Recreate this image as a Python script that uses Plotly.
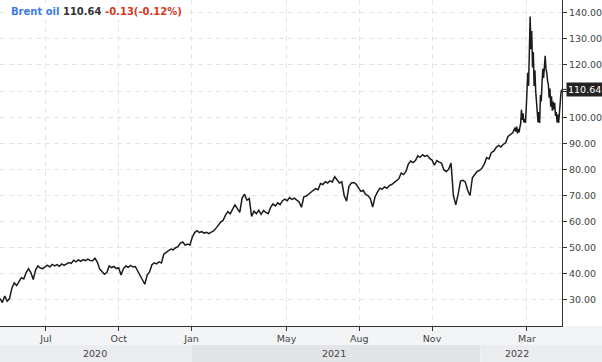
import pandas as pd
import plotly.graph_objects as go

# ---- data ----
# Part A: one value every 3 calendar days, 2020-05-04 .. 2022-02-14
dates_a = pd.date_range("2020-05-04", periods=218, freq="3D")
values_a = [
    30.5, 29.0, 31.5, 29.5, 30.5, 34.5, 36.5, 35.5, 37.0, 38.5,
    38.0, 40.5, 42.0, 40.5, 37.8, 41.5, 43.0, 42.2, 42.0, 42.8,
    43.3, 42.6, 43.6, 43.0, 43.5, 42.9, 43.8, 43.2, 43.9, 44.3,
    44.0, 45.2, 44.6, 45.3, 44.8, 45.4, 45.0, 45.6, 45.1, 45.0,
    46.0, 44.5, 41.8, 40.8, 39.8, 40.5, 43.0, 42.4, 42.8, 42.0,
    42.3, 39.5, 42.0, 43.0, 42.5, 43.2, 42.6, 42.8, 41.0, 39.5,
    37.8, 36.0, 39.5, 40.7, 43.5, 44.2, 43.8, 44.6, 44.2, 47.5,
    48.2, 49.0, 49.5, 49.2, 50.0, 50.4, 51.8, 52.2, 51.0, 51.4,
    51.0, 54.0, 55.8, 56.5, 55.8, 56.2, 55.6, 55.9, 55.4, 56.0,
    56.4, 57.5, 58.8, 59.8, 60.5, 62.5, 63.8, 63.0, 64.8, 66.4,
    65.0, 63.5, 69.0, 70.5, 68.2, 68.8, 62.0, 64.0, 63.0, 64.4,
    62.8, 64.2, 63.5, 63.0, 65.5, 66.8, 66.0, 67.2, 66.5, 68.0,
    68.6, 68.0, 69.2, 68.5, 69.0, 68.3, 67.5, 65.5, 69.5, 69.8,
    70.6, 71.2, 72.0, 72.6, 72.2, 74.6, 74.2, 75.3, 74.8, 75.6,
    75.2, 77.2, 75.8, 74.8, 75.2, 70.0, 67.8, 73.5, 74.8, 75.0,
    74.4, 72.8, 71.6, 72.0, 70.4, 70.0, 68.8, 65.6, 69.5, 71.3,
    72.8, 72.4, 73.3, 72.8, 73.8, 74.2, 75.0, 75.6, 76.4, 78.6,
    78.0, 79.2, 82.0, 83.2, 82.6, 83.4, 85.2, 84.6, 85.6, 85.0,
    85.4, 84.2, 83.6, 81.6, 83.4, 82.8, 82.4, 79.8, 79.2, 80.0,
    82.4, 70.0, 66.4, 70.5, 75.5, 75.8, 75.2, 72.0, 70.0, 76.8,
    78.0, 79.2, 79.6, 80.4, 82.0, 84.5, 84.0, 86.5, 87.0, 88.4,
    89.2, 88.6, 89.6, 90.2, 92.6, 93.2, 94.0, 96.0,
]
# Part B: daily values, 2022-02-15 .. 2022-04-14
dates_b = pd.date_range("2022-02-15", "2022-04-14", freq="D")
values_b = [
    94.5, 96.4, 93.8, 95.5, 94.2, 96.0, 97.5, 102.8, 99.0, 101.5,
    98.0, 99.2, 97.8, 103.0, 109.0, 117.0, 112.0, 124.0, 138.6, 126.0,
    133.0, 119.0, 125.0, 112.0, 118.0, 110.0, 106.0, 104.0, 98.0, 102.0,
    97.8, 108.5, 106.0, 113.0, 118.5, 115.0, 120.5, 123.5, 118.5, 117.0,
    114.0, 112.5, 107.5, 111.0, 104.0, 108.0, 102.5, 106.0, 103.0, 105.5,
    100.5, 102.0, 98.0, 101.0, 97.8, 103.5, 106.5, 109.5, 110.64,
]
dates = list(dates_a) + list(dates_b)
values = values_a + values_b

name = "Brent oil"
last_price = "110.64"
change = "-0.13(-0.12%)"

x_tick_dates = ["2020-07-01", "2020-10-01", "2021-01-01", "2021-05-01",
                "2021-08-01", "2021-11-01", "2022-03-01"]
x_tick_text = ["Jul", "Oct", "Jan", "May", "Aug", "Nov", "Mar"]
y_ticks = [30, 40, 50, 60, 70, 80, 90, 100, 110, 120, 130, 140]

years = ["2020", "2021", "2022"]
year_label_dates = ["2020-09-01", "2021-06-30", "2022-02-17"]
year_bounds = ["2021-01-01", "2022-01-01"]

# ---- layout geometry ----
W, H = 602, 362
ML, MR, MT, MB = 0, 40, 0, 36
PW = W - ML - MR
PH = H - MT - MB
x_start = pd.Timestamp("2020-05-04")
x_end = pd.Timestamp("2022-04-14 06:00")


def xpaper(d):
    return (pd.Timestamp(d) - x_start) / (x_end - x_start)


band1 = -19 / PH          # bottom of tick label band
band2 = -(H - MT - PH) / PH  # bottom of figure
x_right = (PW + MR) / PW
font = "DejaVu Sans"

fig = go.Figure()
fig.add_trace(go.Scatter(
    x=dates, y=values, mode="lines",
    line=dict(color="#1b1b1b", width=1.5),
    hoverinfo="skip", showlegend=False,
))

shapes = [
    dict(type="rect", xref="paper", yref="paper", x0=0, x1=x_right,
         y0=band1, y1=0, fillcolor="#f3f4f6", line_width=0, layer="below"),
    dict(type="rect", xref="paper", yref="paper", x0=0, x1=xpaper(year_bounds[0]),
         y0=band2, y1=band1, fillcolor="#ebecef", line_width=0, layer="below"),
    dict(type="rect", xref="paper", yref="paper", x0=xpaper(year_bounds[0]),
         x1=xpaper(year_bounds[1]), y0=band2, y1=band1,
         fillcolor="#e3e4e7", line_width=0, layer="below"),
    dict(type="rect", xref="paper", yref="paper", x0=xpaper(year_bounds[1]),
         x1=x_right, y0=band2, y1=band1, fillcolor="#ebecef", line_width=0,
         layer="below"),
]

annotations = []
for yr, d in zip(years, year_label_dates):
    annotations.append(dict(
        text=yr, xref="paper", yref="paper", x=xpaper(d), y=(band1 + band2) / 2,
        showarrow=False, xanchor="center", yanchor="middle",
        font=dict(family=font, size=9.5, color="#444"),
    ))

annotations.append(dict(
    text=(f"<span style='color:#3a7be0'>{name}</span> "
          f"<span style='color:#333333'>{last_price}</span> "
          f"<span style='color:#d23a1b'>{change}</span>"),
    xref="paper", yref="paper", x=0, y=1, xanchor="left", yanchor="top",
    xshift=8, yshift=-3, showarrow=False, bgcolor="white", borderpad=2,
    font=dict(family=font, size=10, weight="bold"),
))

annotations.append(dict(
    text=last_price, xref="paper", yref="y", x=1, y=values[-1],
    showarrow=True, ax=22, ay=0, axref="pixel", ayref="pixel",
    arrowhead=0, arrowwidth=1, arrowcolor="#222", standoff=0,
    bgcolor="#222222", borderpad=1,
    font=dict(family=font, size=9.5, color="white"),
))
# pointer triangle
annotations.append(dict(
    text="", xref="paper", yref="y", x=1, y=values[-1],
    showarrow=True, ax=5, ay=0, axref="pixel", ayref="pixel",
    arrowhead=2, arrowsize=1.2, arrowwidth=3, arrowcolor="#222", standoff=0,
))

fig.update_layout(
    width=W, height=H,
    margin=dict(l=ML, r=MR, t=MT, b=MB, pad=0),
    paper_bgcolor="white", plot_bgcolor="white",
    font=dict(family=font, size=9.5, color="#444"),
    shapes=shapes, annotations=annotations,
    xaxis=dict(
        type="date", range=[x_start, x_end],
        tickvals=x_tick_dates, ticktext=x_tick_text,
        showgrid=True, gridcolor="#e4e4e4", griddash="5px,4px", gridwidth=1,
        showline=True, linecolor="#333", linewidth=1,
        ticks="outside", ticklen=4, tickcolor="#333",
        tickfont=dict(family=font, size=9.5, color="#444"),
        zeroline=False, fixedrange=True,
    ),
    yaxis=dict(
        side="right", range=[20, 144.9],
        tickvals=y_ticks, tickformat=".2f",
        showgrid=True, gridcolor="#e4e4e4", griddash="5px,4px", gridwidth=1,
        showline=True, linecolor="#333", linewidth=1,
        ticks="outside", ticklen=4, tickcolor="#333",
        tickfont=dict(family=font, size=9.5, color="#444"),
        zeroline=False, fixedrange=True,
    ),
    showlegend=False,
)

fig.write_html(
    "out.html",
    config={"displayModeBar": False},
    post_script="document.body.style.margin='0';document.body.style.overflow='hidden';",
)
